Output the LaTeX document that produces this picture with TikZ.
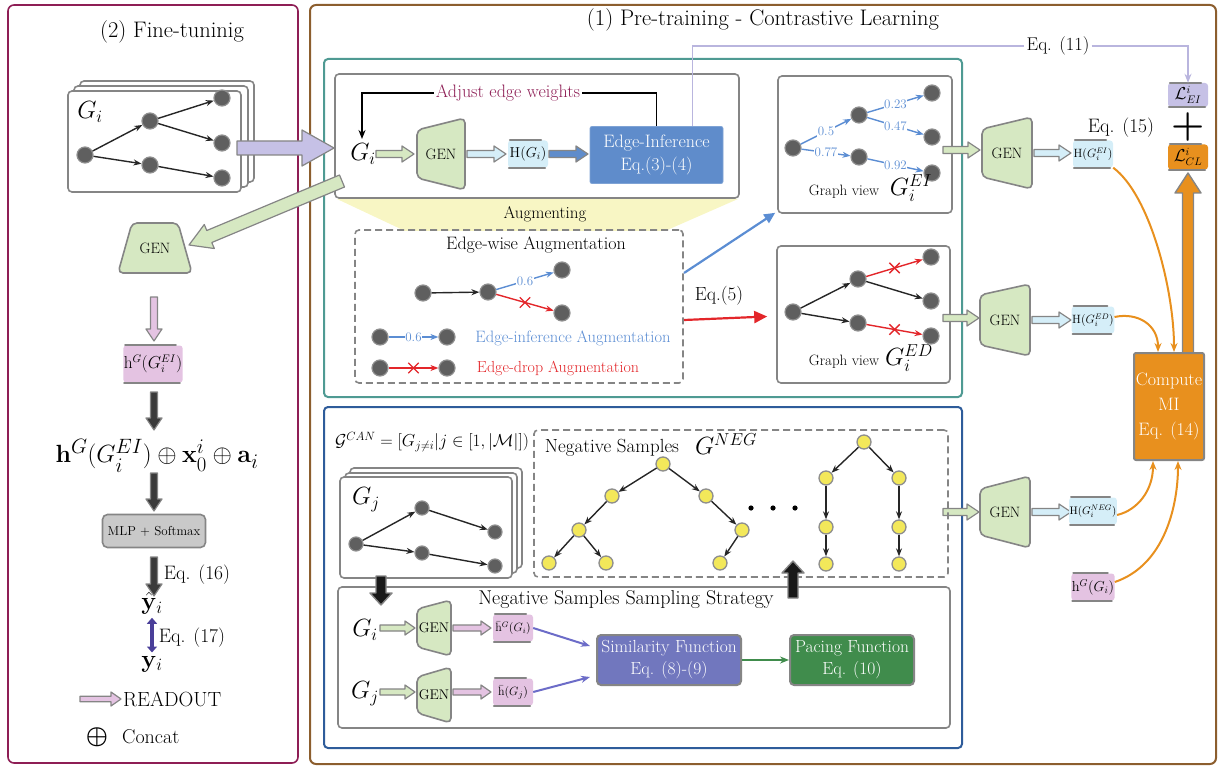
\documentclass[tikz,border=0pt]{standalone}
\usepackage{amsmath,amssymb}
\usetikzlibrary{arrows.meta,calc,shapes.misc}
\definecolor{maroonc}{HTML}{8E1E55}
\definecolor{brownc}{HTML}{8C5E2E}
\definecolor{tealc}{HTML}{4F9A93}
\definecolor{bluec}{HTML}{2E5C9A}
\definecolor{nodegray}{HTML}{5F5F5F}
\definecolor{nodeborder}{HTML}{8E8E8E}
\definecolor{boxgray}{HTML}{858585}
\definecolor{genfill}{HTML}{D6E8C2}
\definecolor{hblue}{HTML}{D5EEF8}
\definecolor{pinkc}{HTML}{E4C3E2}
\definecolor{lavc}{HTML}{C6C1E6}
\definecolor{lavline}{HTML}{B9B5DE}
\definecolor{orangec}{HTML}{E8901E}
\definecolor{eiblue}{HTML}{5F8CCB}
\definecolor{eblue}{HTML}{5B8DD3}
\definecolor{redc}{HTML}{E3262A}
\definecolor{simc}{HTML}{7177BE}
\definecolor{pacec}{HTML}{408C4C}
\definecolor{purpc}{HTML}{6C6CC8}
\definecolor{dpurple}{HTML}{4A3F99}
\definecolor{yellowc}{HTML}{F3E85A}
\definecolor{augyellow}{HTML}{F8F6C4}
\definecolor{mlpgray}{HTML}{C9C9C9}
\definecolor{darkfill}{HTML}{3A3A3A}

\newcommand\fatarr[6]{%
  \filldraw[#1] ($(#2)!#4!90:(#3)$) -- ($(#3)!#6!(#2)!#4!-90:(#2)$)
   -- ($(#3)!#6!(#2)!#5!-90:(#2)$) -- (#3)
   -- ($(#3)!#6!(#2)!#5!90:(#2)$) -- ($(#3)!#6!(#2)!#4!90:(#2)$)
   -- ($(#2)!#4!-90:(#3)$) -- cycle;}
\newcommand\genR[7]{%
  \draw[genshape] (#2-#4,#3-#5) -- (#2+#4,#3-#6) -- (#2+#4,#3+#6) -- (#2-#4,#3+#5) -- cycle;
  \node[gentext,font=\fontsize{#7}{#7}\selectfont,minimum width=2*#4,minimum height=2*#6] (#1) at (#2,#3) {GEN};}
\newcommand\tens[1]{%
  \draw[tline] ([xshift=2pt]#1.north west) -- ([xshift=-7pt]#1.north east);
  \draw[tline] ([xshift=1pt]#1.south west) -- ([xshift=-3pt]#1.south east);}

\begin{document}
\begin{tikzpicture}[x=1pt,y=-1pt,
  tfont/.style={font=\fontsize{22.5}{22.5}\selectfont},
  lfont/.style={font=\fontsize{19.5}{19.5}\selectfont},
  gnode/.style={circle,fill=nodegray,draw=nodeborder,line width=1.2pt,minimum size=16pt,inner sep=0pt},
  snode/.style={gnode,minimum size=14pt},
  ynode/.style={circle,fill=yellowc,draw=nodeborder,line width=1.3pt,minimum size=14pt,inner sep=0pt},
  garr/.style={-{Stealth[length=8pt,width=6pt]},line width=1.4pt,black!85},
  bluearr/.style={-{Stealth[length=8pt,width=6pt]},line width=1.4pt,eblue},
  redarr/.style={-{Stealth[length=8pt,width=6pt]},line width=1.4pt,redc},
  wlabel/.style={fill=white,inner sep=0.6pt,text=eblue,font=\fontsize{13}{13}\selectfont},
  xmark/.style={cross out,draw=redc,line width=1.4pt,minimum size=9pt,inner sep=0pt},
  graybox/.style={draw=boxgray,line width=1.6pt,rounded corners=4pt,fill=white,inner sep=0pt},
  dashbox/.style={draw=boxgray,dash pattern=on 7pt off 4pt,line width=1.6pt,rounded corners=4pt,inner sep=0pt},
  genshape/.style={fill=genfill,draw=boxgray,line width=1.6pt,rounded corners=5pt},
  gentext/.style={inner sep=0pt},
  tensor/.style={rounded corners=3pt,inner sep=0.5pt,minimum width=40pt,minimum height=27pt,font=\fontsize{12}{12}\selectfont},
  tline/.style={draw=boxgray,line width=1.8pt,line cap=round},
  fatgreen/.style={fill=genfill,draw=boxgray,line width=1.2pt,line join=round},
  fatblue/.style={fill=hblue,draw=boxgray,line width=1.2pt,line join=round},
  fatgb/.style={fill=eiblue,draw=boxgray,line width=1.2pt,line join=round},
  fatpink/.style={fill=pinkc,draw=boxgray,line width=1.2pt,line join=round},
  fatlav/.style={fill=lavc,draw=boxgray,line width=1.2pt,line join=round},
  fatdark/.style={fill=darkfill,draw=boxgray,line width=1.2pt,line join=round},
  fatblack/.style={fill=black!90,draw=boxgray,line width=1.4pt,line join=round},
  fatorange/.style={fill=orangec,draw=boxgray,line width=1.4pt,line join=round},
  orarr/.style={draw=orangec,line width=2pt,-{Stealth[length=9pt,width=7pt]}},
  purparr/.style={draw=purpc,line width=2pt,-{Stealth[length=9pt,width=7pt]}},
  greenarr/.style={draw=pacec,line width=2pt,-{Stealth[length=9pt,width=7pt]}},
  mlp/.style={fill=mlpgray,draw=boxgray,line width=1.6pt,rounded corners=5pt,minimum width=103pt,minimum height=33pt,font=\fontsize{13}{13}\selectfont},
  eistyle/.style={fill=eiblue,draw=eiblue!80!white,line width=0.8pt,rounded corners=2pt,minimum width=133pt,minimum height=57pt,text=white,align=center,font=\fontsize{18}{23}\selectfont,inner sep=0pt},
  mibox/.style={fill=orangec,draw=boxgray,line width=2pt,rounded corners=2pt,minimum width=70pt,minimum height=107pt,text=white,align=center,font=\fontsize{18}{25}\selectfont,inner sep=0pt},
  fbox/.style={draw=boxgray,line width=2pt,rounded corners=4pt,minimum height=50pt,text=white,align=center,font=\fontsize{17.5}{22}\selectfont,inner sep=0pt}
]
\useasboundingbox (0,0) rectangle (1220,767);

%% ================= LEFT PANEL =================
\draw[draw=maroonc,line width=1.6pt,rounded corners=6pt] (8,5) rectangle (298,763);
\node[tfont] (t2) at (172,32) {(2) Fine-tuninig};
\draw[graybox] (80,81) rectangle (254,182);
\draw[graybox] (74,86) rectangle (248,187);
\node[graybox,minimum width=173pt,minimum height=101pt] (gibox) at (154.5,141.5) {};
\node[font=\fontsize{26}{26}\selectfont] (gil) at (90,112) {$G_i$};
\node[gnode] (a1) at (85,155) {};
\node[gnode] (a2) at (150,121) {};
\node[gnode] (a3) at (150,165) {};
\node[gnode] (a4) at (222,98) {};
\node[gnode] (a5) at (222,143) {};
\node[gnode] (a6) at (222,178) {};
\draw[garr] (a1) -- (a2);
\draw[garr] (a1) -- (a3);
\draw[garr] (a2) -- (a4);
\draw[garr] (a2) -- (a5);
\draw[garr] (a3) -- (a6);

\draw[genshape] (132,223) -- (178,223) -- (192,273) -- (118,273) -- cycle;
\node[gentext,font=\fontsize{15}{15}\selectfont,minimum width=74pt,minimum height=50pt] (gen0) at (155,248) {GEN};

\coordinate (pk1) at (154,297);
\coordinate (pk2) at (154,341);
\fatarr{fatpink}{pk1}{pk2}{3.5pt}{8pt}{12pt}
\node[tensor,fill=pinkc,minimum width=58pt,minimum height=37pt,font=\fontsize{16}{16}\selectfont] (hl) at (153,364) {$\mathrm{h}^G(G_i^{EI})$};
\tens{hl}
\coordinate (dk1) at (154,392);
\coordinate (dk2) at (154,430);
\fatarr{fatdark}{dk1}{dk2}{3.5pt}{8pt}{12pt}
\node[font=\fontsize{29}{29}\selectfont] (form) at (157,456) {$\mathbf{h}^G(G_i^{EI})\oplus\mathbf{x}_0^i\oplus\mathbf{a}_i$};
\coordinate (dk3) at (154,473);
\coordinate (dk4) at (154,511);
\fatarr{fatdark}{dk3}{dk4}{3.5pt}{8pt}{12pt}
\node[mlp] (mlp) at (154,531) {MLP + Softmax};
\coordinate (dk5) at (154,557);
\coordinate (dk6) at (154,596);
\fatarr{fatdark}{dk5}{dk6}{3.5pt}{8pt}{12pt}
\node[lfont] (eq16) at (197,575) {Eq. (16)};
\node[font=\fontsize{27}{27}\selectfont] (yhat) at (152,603) {$\hat{\mathbf{y}}_i$};
\node[font=\fontsize{27}{27}\selectfont] (yv) at (152,664) {$\mathbf{y}_i$};
\draw[dpurple,line width=3.5pt,{Triangle[length=6pt,width=10pt]}-{Triangle[length=6pt,width=10pt]}] (yhat.south) -- (yv.north);
\node[lfont] (eq17) at (192,638) {Eq. (17)};
\coordinate (ro1) at (80,699);
\coordinate (ro2) at (121,699);
\fatarr{fatpink}{ro1}{ro2}{2.8pt}{7pt}{10pt}
\node[font=\fontsize{20.5}{20.5}\selectfont,anchor=west,inner sep=1pt] (ro) at (122,699) {READOUT};
\node[font=\fontsize{28}{28}\selectfont] (cc) at (97,737) {$\boldsymbol{\oplus}$};
\node[font=\fontsize{20}{20}\selectfont,anchor=west,inner sep=1pt] (cct) at (121,737) {Concat};

%% ================= RIGHT PANEL =================
\draw[draw=brownc,line width=2pt,rounded corners=6pt] (310,5) rectangle (1216,764);
\node[tfont] (t1) at (763,20) {(1) Pre-training - Contrastive Learning};
\draw[draw=tealc,line width=2pt,rounded corners=4pt] (324,59) rectangle (962,397);
\draw[draw=bluec,line width=2pt,rounded corners=4pt] (324,407) rectangle (962,748);

% --- edge inference block
\fill[augyellow] (337,199) -- (738,199) -- (665,231) -- (405,231) -- cycle;
\node[graybox,minimum width=404pt,minimum height=124pt] (ibox) at (537,136) {};
\node[font=\fontsize{17}{17}\selectfont] (aug) at (545,214) {Augmenting};
\node[font=\fontsize{26}{26}\selectfont] (gi1) at (363,154) {$G_i$};
\genR{gen1}{441}{154}{24}{24}{36}{15}
\node[tensor,fill=hblue,font=\fontsize{14}{14}\selectfont] (hgi) at (528,154) {$\mathrm{H}(G_i)$};
\tens{hgi}
\node[eistyle] (ei) at (656.5,155) {Edge-Inference\\Eq.(3)-(4)};
\node[fill=white,inner sep=2pt,text=maroonc,font=\fontsize{18}{18}\selectfont] (adj) at (508,93) {Adjust edge weights};
\coordinate (gtop) at (362,139);
\draw[line width=1.6pt] (ei.north) |- (adj.east);
\draw[line width=1.6pt,-{Stealth[length=9pt,width=7pt]}] (adj.west) -| (gtop);
\coordinate (g1a) at (376,154);
\coordinate (g1b) at (414,154);
\fatarr{fatgreen}{g1a}{g1b}{3.5pt}{8pt}{12pt}
\coordinate (g1c) at (467,154);
\coordinate (g1d) at (506,154);
\fatarr{fatblue}{g1c}{g1d}{3.5pt}{8pt}{12pt}
\coordinate (g1e) at (549,154);
\coordinate (g1f) at (588,154);
\fatarr{fatgb}{g1e}{g1f}{3.5pt}{8pt}{12pt}

% --- graph view EI
\node[graybox,minimum width=174pt,minimum height=137pt] (gvEI) at (865,144.5) {};
\node[gnode] (e1) at (793,148) {};
\node[gnode] (e2) at (859,115) {};
\node[gnode] (e3) at (859,157) {};
\node[gnode] (e4) at (932,93) {};
\node[gnode] (e5) at (932,137) {};
\node[gnode] (e6) at (932,173) {};
\draw[bluearr] (e1) -- node[wlabel]{0.5} (e2);
\draw[bluearr] (e1) -- node[wlabel]{0.77} (e3);
\draw[bluearr] (e2) -- node[wlabel]{0.23} (e4);
\draw[bluearr] (e2) -- node[wlabel]{0.47} (e5);
\draw[bluearr] (e3) -- node[wlabel]{0.92} (e6);
\node[font=\fontsize{15}{15}\selectfont] (gvt1) at (844,192) {Graph view};
\node[font=\fontsize{23}{23}\selectfont] (gEI) at (911,188) {$G_i^{EI}$};

% --- graph view ED
\node[graybox,minimum width=173pt,minimum height=137pt] (gvED) at (863.5,314.5) {};
\node[gnode] (f1) at (793,312) {};
\node[gnode] (f2) at (858,279) {};
\node[gnode] (f3) at (858,323) {};
\node[gnode] (f4) at (931,257) {};
\node[gnode] (f5) at (931,301) {};
\node[gnode] (f6) at (931,336) {};
\draw[garr] (f1) -- (f2);
\draw[garr] (f1) -- (f3);
\draw[garr] (f2) -- (f5);
\draw[redarr] (f2) -- node[xmark]{} (f4);
\draw[redarr] (f3) -- node[xmark]{} (f6);
\node[font=\fontsize{15}{15}\selectfont] (gvt2) at (844,362) {Graph view};
\node[font=\fontsize{23}{23}\selectfont] (gED) at (909,358) {$G_i^{ED}$};

% --- edge-wise augmentation
\node[dashbox,minimum width=328pt,minimum height=153pt] (ewbox) at (519,306.5) {};
\node[font=\fontsize{18}{18}\selectfont] (ewt) at (536,245) {Edge-wise Augmentation};
\node[gnode] (w1) at (423,293) {};
\node[gnode] (w2) at (488,292) {};
\node[gnode] (w3) at (562,270) {};
\node[gnode] (w4) at (562,313) {};
\draw[garr] (w1) -- (w2);
\draw[bluearr] (w2) -- node[wlabel]{0.6} (w3);
\draw[redarr] (w2) -- node[xmark]{} (w4);
\node[gnode] (l1) at (380,337) {};
\node[gnode] (l2) at (447,337) {};
\draw[bluearr] (l1) -- node[wlabel]{0.6} (l2);
\node[text=eblue,font=\fontsize{16.5}{16.5}\selectfont] (lt1) at (573,338) {Edge-inference Augmentation};
\node[gnode] (l3) at (380,368) {};
\node[gnode] (l4) at (447,368) {};
\draw[redarr] (l3) -- node[xmark]{} (l4);
\node[text=redc,font=\fontsize{16}{16}\selectfont] (lt2) at (558,368) {Edge-drop Augmentation};
\coordinate (bA) at (684,273);
\draw[line width=2.2pt,eblue,-{Triangle[length=11pt,width=10pt]}] (bA) -- ($(gvEI.south west)+(-2,-1)$);
\coordinate (rA) at (684,320);
\draw[line width=2.2pt,redc,-{Triangle[length=13pt,width=12pt]}] (rA) -- ($(gvED.west)+(-9,2)$);
\node[font=\fontsize{19}{19}\selectfont] (eq5) at (719,296) {Eq.(5)};

% --- encoders on the right
\genR{gen2}{1007}{153}{25}{24}{36}{15}
\genR{gen3}{1005}{320}{25}{25}{36}{15}
\genR{gen4}{1005}{512}{25}{23}{36}{15}
\coordinate (q1) at (943,150);
\coordinate (q2) at (980,150);
\fatarr{fatgreen}{q1}{q2}{3.5pt}{8pt}{12pt}
\coordinate (q3) at (1034,153);
\coordinate (q4) at (1071,153);
\fatarr{fatblue}{q3}{q4}{3.5pt}{8pt}{12pt}
\coordinate (q5) at (943,318);
\coordinate (q6) at (979,318);
\fatarr{fatgreen}{q5}{q6}{3.5pt}{8pt}{12pt}
\coordinate (q7) at (1032,320);
\coordinate (q8) at (1071,320);
\fatarr{fatblue}{q7}{q8}{3.5pt}{8pt}{12pt}
\coordinate (q9) at (943,512);
\coordinate (q10) at (979,512);
\fatarr{fatgreen}{q9}{q10}{3.5pt}{8pt}{12pt}
\coordinate (q11) at (1032,512);
\coordinate (q12) at (1071,512);
\fatarr{fatblue}{q11}{q12}{3.5pt}{8pt}{12pt}

\node[tensor,fill=hblue] (hEI) at (1093,154) {$\mathrm{H}(G_i^{EI})$};
\tens{hEI}
\node[tensor,fill=hblue] (hED) at (1093,320) {$\mathrm{H}(G_i^{ED})$};
\tens{hED}
\node[tensor,fill=hblue,font=\fontsize{11}{11}\selectfont] (hNEG) at (1093,511) {$\mathrm{H}(G_i^{NEG})$};
\tens{hNEG}
\node[tensor,fill=pinkc,font=\fontsize{14}{14}\selectfont] (hG) at (1093,587) {$\mathrm{h}^G(G_i)$};
\tens{hG}

% --- losses
\coordinate (oa1) at (1188,353);
\coordinate (oa2) at (1188,173);
\fatarr{fatorange}{oa1}{oa2}{5.5pt}{13pt}{20pt}
\node[mibox] (mi) at (1169,406.5) {Compute\\MI\\Eq. (14)};
\node[tensor,fill=lavc,minimum height=24pt,font=\fontsize{16}{16}\selectfont] (lei) at (1188,95) {$\mathcal{L}^i_{EI}$};
\tens{lei}
\node[font=\fontsize{38}{38}\selectfont\bfseries] (plus) at (1188,127) {+};
\node[lfont] (eq15) at (1121,128) {Eq. (15)};
\node[tensor,fill=orangec,minimum height=25pt,font=\fontsize{16}{16}\selectfont] (lcl) at (1188,157) {$\mathcal{L}^i_{CL}$};
\tens{lcl}
\node[font=\fontsize{18.5}{18.5}\selectfont,fill=white,inner sep=2pt] (eq11) at (1058,46) {Eq. (11)};
\draw[lavline,line width=1.8pt] ([xshift=36pt]ei.north) |- (eq11.west);
\draw[lavline,line width=1.8pt,-{Stealth[length=9pt,width=7pt]}] (eq11.east) -| (lei.north);

\draw[orarr] (hEI.south east) .. controls (1150,195) and (1174,290) .. ($(mi.north)+(5,0)$);
\draw[orarr] ($(hED.east)+(0,-3)$) .. controls (1138,312) and (1158,325) .. ($(mi.north)+(-11,0)$);
\draw[orarr] ($(hNEG.east)+(0,4)$) .. controls (1138,510) and (1153,490) .. ($(mi.south)+(-16,0)$);
\draw[orarr] ($(hG.east)+(0,-5)$) .. controls (1165,565) and (1178,505) .. ($(mi.south)+(9,0)$);

% --- negative samples block
\node[font=\fontsize{18}{18}\selectfont] (gcan) at (432,442) {$\mathcal{G}^{CAN}=[G_{j\neq i}|j\in[1,|\mathcal{M}|])$};
\draw[graybox] (350,468) rectangle (522,568);
\draw[graybox] (345,473) rectangle (517,573);
\node[graybox,minimum width=172pt,minimum height=101pt] (gjbox) at (426,527.5) {};
\node[font=\fontsize{25}{25}\selectfont] (gjl) at (366,500) {$G_j$};
\node[snode] (j1) at (356,544) {};
\node[snode] (j2) at (422,508) {};
\node[snode] (j3) at (422,553) {};
\node[snode] (j4) at (495,532) {};
\node[snode] (j5) at (495,566) {};
\draw[garr] (j1) -- (j2);
\draw[garr] (j1) -- (j3);
\draw[garr] (j2) -- (j4);
\draw[garr] (j3) -- (j5);

\node[dashbox,minimum width=414pt,minimum height=147pt] (negbox) at (741,503.5) {};
\node[font=\fontsize{19}{19}\selectfont] (ns) at (612,448) {Negative Samples};
\node[font=\fontsize{24}{24}\selectfont] (gneg) at (726,444) {$G^{NEG}$};
\node[ynode] (t1n) at (663,464) {};
\node[ynode] (t2n) at (612,496) {};
\node[ynode] (t3n) at (706,496) {};
\node[ynode] (t4n) at (579,530) {};
\node[ynode] (t5n) at (742,530) {};
\node[ynode] (t6n) at (549,563) {};
\node[ynode] (t7n) at (606,563) {};
\node[ynode] (t8n) at (720,563) {};
\draw[garr] (t1n) -- (t2n);
\draw[garr] (t1n) -- (t3n);
\draw[garr] (t2n) -- (t4n);
\draw[garr] (t4n) -- (t6n);
\draw[garr] (t4n) -- (t7n);
\draw[garr] (t3n) -- (t5n);
\draw[garr] (t5n) -- (t8n);
\node[ynode] (u1) at (864,442) {};
\node[ynode] (u2) at (826,478) {};
\node[ynode] (u3) at (899,478) {};
\node[ynode] (u4) at (826,527) {};
\node[ynode] (u5) at (899,527) {};
\node[ynode] (u6) at (826,564) {};
\node[ynode] (u7) at (899,564) {};
\draw[garr] (u1) -- (u2);
\draw[garr] (u1) -- (u3);
\draw[garr] (u2) -- (u4);
\draw[garr] (u4) -- (u6);
\draw[garr] (u3) -- (u5);
\draw[garr] (u5) -- (u7);
\fill[black] (751,508) circle (2.6) (773,508) circle (2.6) (795,508) circle (2.6);

% --- sampling strategy
\node[graybox,minimum width=612pt,minimum height=141pt] (sbox) at (644,657.5) {};
\coordinate (ba1) at (381,576);
\coordinate (ba2) at (381,605);
\fatarr{fatblack}{ba1}{ba2}{5pt}{11pt}{12pt}
\coordinate (bu1) at (793,598);
\coordinate (bu2) at (793,561);
\fatarr{fatblack}{bu1}{bu2}{5pt}{11pt}{12pt}
\node[font=\fontsize{20}{20}\selectfont] (st) at (626,600) {Negative Samples Sampling Strategy};
\node[font=\fontsize{25}{25}\selectfont] (gi2) at (365,630) {$G_i$};
\node[font=\fontsize{25}{25}\selectfont] (gj2) at (365,694) {$G_j$};
\genR{gen5}{434}{628}{17}{19}{28}{14}
\genR{gen6}{434}{695}{17}{18}{28}{14}
\coordinate (s1) at (380,628);
\coordinate (s2) at (415,628);
\fatarr{fatgreen}{s1}{s2}{3pt}{7pt}{10pt}
\coordinate (s3) at (380,692);
\coordinate (s4) at (415,692);
\fatarr{fatgreen}{s3}{s4}{3pt}{7pt}{10pt}
\coordinate (s5) at (453,628);
\coordinate (s6) at (491,628);
\fatarr{fatpink}{s5}{s6}{3pt}{7pt}{10pt}
\coordinate (s7) at (453,692);
\coordinate (s8) at (491,692);
\fatarr{fatpink}{s7}{s8}{3pt}{7pt}{10pt}
\node[tensor,fill=pinkc] (hb1) at (513,628) {$\bar{\mathrm{h}}^G(G_i)$};
\tens{hb1}
\node[tensor,fill=pinkc,font=\fontsize{13}{13}\selectfont] (hb2) at (513,692) {$\bar{\mathrm{h}}(G_j)$};
\tens{hb2}
\node[fbox,fill=simc,minimum width=144pt] (sim) at (669,660) {Similarity Function\\Eq. (8)-(9)};
\node[fbox,fill=pacec,minimum width=124pt] (pace) at (852,660) {Pacing Function\\Eq. (10)};
\draw[purparr] (hb1.east) -- ($(sim.west)+(-6,-14)$);
\draw[purparr] (hb2.east) -- ($(sim.west)+(-6,17)$);
\draw[greenarr] (sim.east) -- (pace.west);

% --- arrows from the left panel (drawn on top)
\coordinate (lv1) at (237,148);
\coordinate (lv2) at (334,148);
\fatarr{fatlav}{lv1}{lv2}{7pt}{18pt}{32pt}
\coordinate (gr1) at (342,181);
\coordinate (gr2) at (189,245);
\fatarr{fatgreen}{gr1}{gr2}{6.5pt}{13pt}{22pt}
\end{tikzpicture}
\end{document}
